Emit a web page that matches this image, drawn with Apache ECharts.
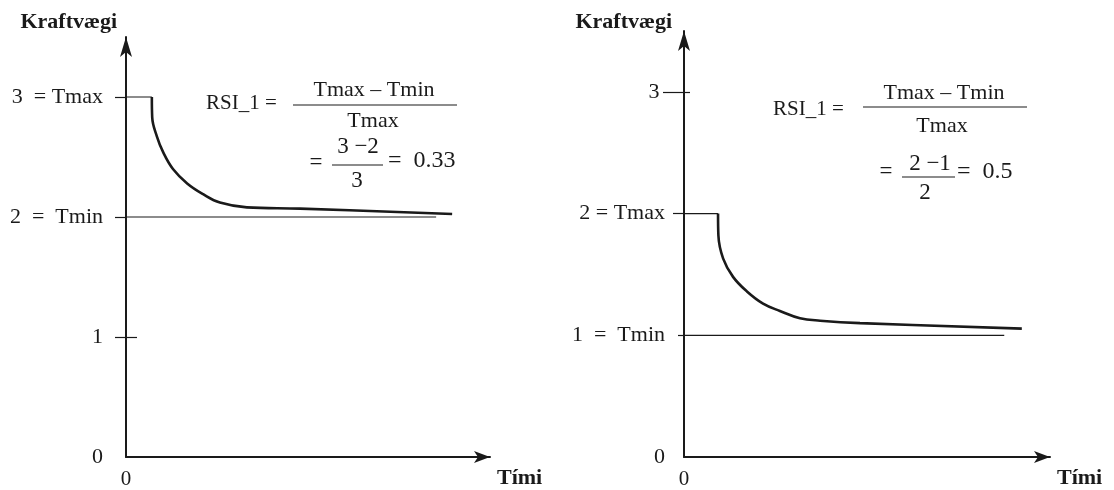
<!DOCTYPE html>
<html>
<head>
<meta charset="utf-8">
<script src="https://cdn.jsdelivr.net/npm/echarts@6.0.0/dist/echarts.min.js"></script>
<style>
  html, body { margin: 0; padding: 0; background: #fff; }
  #chart { width: 1114px; height: 490px; }
</style>
</head>
<body>
<div id="chart"></div>
<script>
// vinstri mynd: RSI_1 = 0.33
var leftTime = [0.71, 0.72, 0.85, 1.02, 1.29, 1.68, 2.12, 2.58, 3.32, 4.78, 8.96];
var leftTorque = [3.0, 2.83, 2.67, 2.54, 2.40, 2.28, 2.19, 2.12, 2.08, 2.07, 2.025];
var leftTmax = 3, leftTmin = 2;
var leftTmaxEnd = 0.71, leftTminEnd = 8.52;
var leftTickLabels = ['0', '1', '2  =  Tmin', '3  = Tmax'];

// hægri mynd: RSI_1 = 0.5
var rightTime = [0.93, 0.94, 1.07, 1.34, 1.72, 2.16, 2.62, 3.17, 3.72, 4.81, 9.23];
var rightTorque = [2.0, 1.82, 1.63, 1.48, 1.36, 1.26, 1.20, 1.14, 1.12, 1.10, 1.055];
var rightTmax = 2, rightTmin = 1;
var rightTmaxEnd = 0.93, rightTminEnd = 8.75;
var rightTickLabels = ['0', '1  =  Tmin', '2 = Tmax', '3 '];

var serif = 'Liberation Serif';
var ink = '#1a1a1a';

function pairs(xs, ys) {
    var out = [];
    for (var i = 0; i < xs.length; i++) out.push([xs[i], ys[i]]);
    return out;
}

function xAxisFor(grid) {
    return {
        type: 'value', gridIndex: grid, min: 0, max: 10,
        name: '{t|Tími}', nameLocation: 'end', nameGap: 7,
        nameTextStyle: {
            verticalAlign: 'top',
            rich: { t: { fontFamily: serif, fontWeight: 'bold', fontSize: 22, color: ink, padding: [10, 0, 0, 0] } }
        },
        axisLine: { show: true, symbol: ['none', 'arrow'], symbolSize: [9, 16], lineStyle: { color: ink, width: 2 } },
        axisTick: { show: false },
        splitLine: { show: false },
        axisLabel: { customValues: [0], margin: 12, fontFamily: serif, fontSize: 21, color: ink, formatter: '{value}' }
    };
}

function yAxisFor(grid, labels, outTicks, gapRight, nameGap, margin) {
    return {
        type: 'value', gridIndex: grid, min: 0, max: 3.5, interval: 1,
        name: 'Kraftvægi', nameLocation: 'end', nameGap: nameGap,
        nameTextStyle: { fontFamily: serif, fontWeight: 'bold', fontSize: 22, color: ink, align: 'right', verticalAlign: 'middle', padding: [0, gapRight, 0, 0] },
        axisLine: { show: true, symbol: ['none', 'arrow'], symbolSize: [9, 20], lineStyle: { color: ink, width: 2 } },
        axisTick: { show: true, customValues: outTicks, length: 11, lineStyle: { color: ink, width: 1.2 } },
        splitLine: { show: false },
        axisLabel: {
            customValues: [0, 1, 2, 3], margin: margin, fontFamily: serif, fontSize: 22, color: ink,
            formatter: function (v) { return labels[v]; }
        }
    };
}

// auka ás sem teiknar bara stök strik
function tickAxis(grid, ticks, len, inside) {
    return {
        type: 'value', gridIndex: grid, min: 0, max: 3.5, interval: 1, position: 'left',
        axisLine: { show: false },
        axisTick: { show: true, inside: inside, customValues: ticks, length: len, lineStyle: { color: ink, width: 1.2 } },
        axisLabel: { show: false },
        splitLine: { show: false }
    };
}

function txt(x, y, s, align, size) {
    return {
        type: 'text', x: x, y: y,
        style: { text: s, fontFamily: serif, fontSize: size || 21, fill: ink, align: align || 'center', verticalAlign: 'middle' }
    };
}
function bar(x1, x2, y) {
    return { type: 'line', shape: { x1: x1, y1: y, x2: x2, y2: y }, style: { stroke: ink, lineWidth: 1.2 } };
}

var thin = { color: ink, width: 1.2 };
var thick = { color: ink, width: 2.6 };

var option = {
    backgroundColor: '#fff',
    animation: false,
    grid: [
        { left: 126, top: 37, width: 364, height: 427 },
        { left: 684, top: 31, width: 366, height: 432 }
    ],
    xAxis: [xAxisFor(0), xAxisFor(1)],
    yAxis: [
        yAxisFor(0, leftTickLabels, [1, 2, 3], 9, 15, 23),
        yAxisFor(1, rightTickLabels, [2], 12, 9, 19),
        tickAxis(0, [1], 11, true),
        tickAxis(1, [3], 6, true),
        tickAxis(1, [3], 21, false),
        tickAxis(1, [1], 6, false)
    ],
    series: [
        { type: 'line', xAxisIndex: 0, yAxisIndex: 0, data: pairs(leftTime, leftTorque), smooth: 0.4, symbol: 'none', lineStyle: thick },
        { type: 'line', xAxisIndex: 0, yAxisIndex: 0, data: [[0, leftTmax], [leftTmaxEnd, leftTmax]], symbol: 'none', lineStyle: thin },
        { type: 'line', xAxisIndex: 0, yAxisIndex: 0, data: [[0, leftTmin], [leftTminEnd, leftTmin]], symbol: 'none', lineStyle: thin },
        { type: 'line', xAxisIndex: 1, yAxisIndex: 1, data: pairs(rightTime, rightTorque), smooth: 0.4, symbol: 'none', lineStyle: thick },
        { type: 'line', xAxisIndex: 1, yAxisIndex: 1, data: [[0, rightTmax], [rightTmaxEnd, rightTmax]], symbol: 'none', lineStyle: thin },
        { type: 'line', xAxisIndex: 1, yAxisIndex: 1, data: [[0, rightTmin], [rightTminEnd, rightTmin]], symbol: 'none', lineStyle: thin }
    ],
    graphic: [
        // formúla vinstri
        txt(206, 103, 'RSI_1 =', 'left'),
        bar(293, 457, 105),
        txt(374, 90, 'Tmax – Tmin', 'center', 22),
        txt(373, 121, 'Tmax', 'center', 22),
        txt(316, 163, '=', 'center', 23),
        txt(358, 147, '3 −2', 'center', 23),
        bar(332, 383, 165),
        txt(357, 181, '3', 'center', 23),
        txt(388, 161, '=  0.33', 'left', 24),
        // formúla hægri
        txt(773, 109, 'RSI_1 =', 'left'),
        bar(863, 1027, 107),
        txt(944, 93, 'Tmax – Tmin', 'center', 22),
        txt(942, 126, 'Tmax', 'center', 22),
        txt(886, 172, '=', 'center', 23),
        txt(930, 164, '2 −1', 'center', 23),
        bar(902, 955, 177),
        txt(925, 193, '2', 'center', 23),
        txt(957, 172, '=  0.5', 'left', 24)
    ]
};

var myChart = echarts.init(document.getElementById('chart'));
myChart.setOption(option);
</script>
</body>
</html>
